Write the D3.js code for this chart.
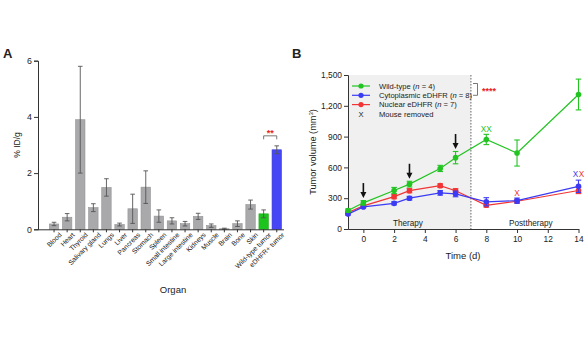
<!DOCTYPE html>
<html><head><meta charset="utf-8">
<script src="https://cdn.jsdelivr.net/npm/d3@7"></script>
<style>
body{margin:0;background:#fff}
svg text{font-family:"Liberation Sans",Arial,Helvetica,sans-serif;fill:#222}
</style></head>
<body><svg id="chart" width="587" height="364"></svg>
<script>
// ---------- Panel A data ----------
const organs = ["Blood","Heart","Thyroid","Salivary gland","Lungs","Liver","Pancreas","Stomach","Spleen","Small intestine","Large intestine","Kidneys","Muscle","Brain","Bone","Skin","Wild-type tumor","eDHFR+ tumor"];
const organValues = [0.19,0.43,3.9,0.77,1.49,0.17,0.73,1.5,0.47,0.3,0.2,0.46,0.13,0.02,0.2,0.88,0.55,2.83];
const organErrors = [0.06,0.13,1.9,0.14,0.31,0.05,0.52,0.58,0.22,0.11,0.08,0.11,0.06,0.02,0.1,0.16,0.14,0.14];
const organColors = ["#a9a9ac","#a9a9ac","#a9a9ac","#a9a9ac","#a9a9ac","#a9a9ac","#a9a9ac","#a9a9ac","#a9a9ac","#a9a9ac","#a9a9ac","#a9a9ac","#a9a9ac","#a9a9ac","#a9a9ac","#a9a9ac","#1ec41e","#4646f6"];
const yTicksA = [0,2,4,6];

// ---------- Panel B data ----------
const days = [-1,0,2,3,5,6,8,10,14];
const wildType = [180,255,375,437,590,695,872,740,1310];
const wildTypeErr = [15,22,30,28,30,60,50,127,150];
const cytoplasmic = [145,215,250,300,352,342,265,276,416];
const cytoplasmicErr = [10,10,15,18,22,28,40,25,60];
const nuclear = [160,225,315,373,422,373,231,270,375];
const nuclearErr = [10,12,20,20,18,20,18,15,30];
const seriesNames = ["Wild-type","Cytoplasmic eDHFR","Nuclear eDHFR"];
const seriesN = [4,8,7];
const seriesColors = ["#22c422","#3b3bf5","#f23434"];
const yTicksB = [0,300,600,900,1200,1500];
const xTicksB = [0,2,4,6,8,10,12,14];
const arrowDays = [0,3,6];
const removedMarks = [
  {day:8, value:975, text:"XX", series:0},
  {day:10, value:355, text:"X", series:2},
  {day:13.8, value:540, text:"X", series:1},
  {day:14.2, value:540, text:"X", series:2}
];

const svg = d3.select("#chart");
const axisColor = "#333";

// ================= PANEL A =================
const xA = d3.scaleBand().domain(organs).range([47.5, 283.3]).paddingInner(0.28).paddingOuter(0.14);
const yA = d3.scaleLinear().domain([0,6]).range([229.3, 60.7]);
const gA = svg.append("g");

gA.selectAll("rect.bar").data(organs).join("rect")
  .attr("x", d => xA(d)).attr("width", xA.bandwidth())
  .attr("y", (d,i) => yA(organValues[i]))
  .attr("height", (d,i) => yA(0) - yA(organValues[i]))
  .attr("fill", (d,i) => organColors[i])
  .attr("stroke", (d,i) => d3.color(organColors[i]).darker(0.4))
  .attr("stroke-width", 0.6);

const errA = gA.selectAll("g.err").data(organs).join("g")
  .attr("stroke", "#555").attr("stroke-width", 0.9);
errA.append("line")
  .attr("x1", d => xA(d) + xA.bandwidth()/2).attr("x2", d => xA(d) + xA.bandwidth()/2)
  .attr("y1", (d,i) => yA(Math.max(0, organValues[i]-organErrors[i])))
  .attr("y2", (d,i) => yA(organValues[i]+organErrors[i]));
errA.append("line")
  .attr("x1", d => xA(d) + xA.bandwidth()/2 - 2.3).attr("x2", d => xA(d) + xA.bandwidth()/2 + 2.3)
  .attr("y1", (d,i) => yA(organValues[i]+organErrors[i]))
  .attr("y2", (d,i) => yA(organValues[i]+organErrors[i]));
errA.append("line")
  .attr("x1", d => xA(d) + xA.bandwidth()/2 - 2.3).attr("x2", d => xA(d) + xA.bandwidth()/2 + 2.3)
  .attr("y1", (d,i) => yA(Math.max(0, organValues[i]-organErrors[i])))
  .attr("y2", (d,i) => yA(Math.max(0, organValues[i]-organErrors[i])));

// y axis A
const yAxA = gA.append("g").attr("transform","translate(38,0)")
  .call(d3.axisLeft(yA).tickValues(yTicksA).tickSize(4).tickPadding(2).tickFormat(d3.format("d")));
yAxA.select(".domain").attr("stroke", axisColor);
yAxA.selectAll(".tick line").attr("stroke", axisColor);
yAxA.selectAll(".tick text").attr("font-size", 8.8).attr("fill","#222");

// x axis A
const xAxA = gA.append("g").attr("transform",`translate(0,${yA(0)})`)
  .call(d3.axisBottom(xA).tickSize(3).tickSizeOuter(0).tickPadding(2));
xAxA.select(".domain").attr("stroke", axisColor).attr("d", `M38,0.5H284`);
xAxA.selectAll(".tick line").attr("stroke", axisColor);
xAxA.selectAll(".tick text")
  .attr("font-size", 6.8).attr("text-anchor","end").attr("fill","#333")
  .attr("transform","translate(3,1) rotate(-45)").attr("dy","0.6em").attr("y", 3).attr("x", 0);

gA.append("text").attr("transform",`translate(20,${(yA(0)+yA(6))/2}) rotate(-90)`)
  .attr("text-anchor","middle").attr("font-size",8.5).text("% ID/g");
gA.append("text").attr("x", 173).attr("y", 293).attr("text-anchor","middle").attr("font-size",9.5).text("Organ");
gA.append("text").attr("x", 3).attr("y", 58).attr("font-size",13).attr("font-weight","bold").text("A");

// significance bracket A
{
  const i1 = organs.length-2, i2 = organs.length-1;
  const x1 = xA(organs[i1]) + xA.bandwidth()/2, x2 = xA(organs[i2]) + xA.bandwidth()/2;
  const yb = yA(organValues[i2] + organErrors[i2]) - 10;
  gA.append("path").attr("d", `M${x1},${yb+3.5}V${yb}H${x2}V${yb+3.5}`)
    .attr("fill","none").attr("stroke","#555").attr("stroke-width",0.8);
  gA.append("text").attr("x",(x1+x2)/2).attr("y", yb+0.5).attr("text-anchor","middle")
    .attr("font-size",9).attr("font-weight","bold").style("fill","#e62222").text("**");
}

// ================= PANEL B =================
const xB = d3.scaleLinear().domain([-1,14]).range([348, 578.5]);
const yB = d3.scaleLinear().domain([0,1500]).range([229, 75]);
const gB = svg.append("g");

// therapy shading
gB.append("rect").attr("x", xB(-1)).attr("y", yB(1500)).attr("width", xB(7)-xB(-1)).attr("height", yB(0)-yB(1500))
  .attr("fill","#f0f0f0");
gB.append("line").attr("x1", xB(7)).attr("x2", xB(7)).attr("y1", yB(1500)).attr("y2", yB(0))
  .attr("stroke","#666").attr("stroke-width",1).attr("stroke-dasharray","1.5,1.5");

gB.append("text").attr("x", xB(2.9)).attr("y", 226).attr("text-anchor","middle").attr("font-size",8.2).text("Therapy");
gB.append("text").attr("x", xB(10.9)).attr("y", 226).attr("text-anchor","middle").attr("font-size",8.2).text("Posttherapy");

// axes B
const yAxB = gB.append("g").attr("transform",`translate(${xB(-1)},0)`)
  .call(d3.axisLeft(yB).tickValues(yTicksB).tickSize(4).tickPadding(2).tickFormat(d3.format(",")));
yAxB.select(".domain").attr("stroke", axisColor);
yAxB.selectAll(".tick line").attr("stroke", axisColor);
yAxB.selectAll(".tick text").attr("font-size", 8.4).attr("fill","#222");

const xAxB = gB.append("g").attr("transform",`translate(0,${yB(0)})`)
  .call(d3.axisBottom(xB).tickValues(xTicksB).tickSize(4).tickSizeOuter(0).tickPadding(3));
xAxB.select(".domain").attr("stroke", axisColor);
xAxB.selectAll(".tick line").attr("stroke", axisColor);
xAxB.selectAll(".tick text").attr("font-size", 8.4).attr("fill","#222");

gB.append("text").attr("transform",`translate(316,${(yB(0)+yB(1500))/2}) rotate(-90)`)
  .attr("text-anchor","middle").attr("font-size",9.2)
  .html('Tumor volume (mm<tspan dy="-3" font-size="6">3</tspan><tspan dy="3">)</tspan>');
gB.append("text").attr("x", 463).attr("y", 259).attr("text-anchor","middle").attr("font-size",9.5).text("Time (d)");
gB.append("text").attr("x", 292).attr("y", 58).attr("font-size",13).attr("font-weight","bold").text("B");

// series
const series = [
  {vals: wildType, errs: wildTypeErr, color: seriesColors[0]},
  {vals: cytoplasmic, errs: cytoplasmicErr, color: seriesColors[1]},
  {vals: nuclear, errs: nuclearErr, color: seriesColors[2]}
];
const line = d3.line().x(d => xB(d[0])).y(d => yB(d[1]));
[2,1,0].forEach(si => {
  const s = series[si];
  const pts = days.map((d,i) => [d, s.vals[i], s.errs[i]]);
  const g = gB.append("g");
  g.append("path").datum(pts).attr("d", line).attr("fill","none").attr("stroke", s.color).attr("stroke-width",1.2);
  const eb = g.selectAll("g.eb").data(pts).join("g").attr("stroke", s.color).attr("stroke-width",1.1);
  eb.append("line").attr("x1", d=>xB(d[0])).attr("x2", d=>xB(d[0])).attr("y1", d=>yB(d[1]-d[2])).attr("y2", d=>yB(d[1]+d[2]));
  eb.append("line").attr("x1", d=>xB(d[0])-2.8).attr("x2", d=>xB(d[0])+2.8).attr("y1", d=>yB(d[1]+d[2])).attr("y2", d=>yB(d[1]+d[2]));
  eb.append("line").attr("x1", d=>xB(d[0])-2.8).attr("x2", d=>xB(d[0])+2.8).attr("y1", d=>yB(d[1]-d[2])).attr("y2", d=>yB(d[1]-d[2]));
  g.selectAll("circle").data(pts).join("circle").attr("cx", d=>xB(d[0])).attr("cy", d=>yB(d[1])).attr("r",2.8).attr("fill", s.color);
});

// arrows
arrowDays.forEach(day => {
  const i = days.indexOf(day);
  const tip = yB(wildType[i] + wildTypeErr[i]) - 2.5;
  const x = xB(day);
  gB.append("line").attr("x1",x).attr("x2",x).attr("y1",tip-15).attr("y2",tip-4).attr("stroke","#111").attr("stroke-width",1.6);
  gB.append("path").attr("d",`M${x-3},${tip-6}L${x+3},${tip-6}L${x},${tip}Z`).attr("fill","#111");
});

// removed marks
removedMarks.forEach(m => {
  gB.append("text").attr("x", xB(m.day)).attr("y", yB(m.value)+3).attr("text-anchor","middle")
    .attr("font-size",8.2).style("fill", seriesColors[m.series]).text(m.text);
});

// legend
const legY = [86, 95.3, 104.6, 114];
seriesNames.forEach((name,i) => {
  gB.append("line").attr("x1",352).attr("x2",370).attr("y1",legY[i]).attr("y2",legY[i]).attr("stroke",seriesColors[i]).attr("stroke-width",1.2);
  gB.append("circle").attr("cx",361).attr("cy",legY[i]).attr("r",2.6).attr("fill",seriesColors[i]);
  const t = gB.append("text").attr("x",379).attr("y",legY[i]+2.7).attr("font-size",7.6);
  t.append("tspan").text(name + " (");
  t.append("tspan").attr("font-style","italic").text("n");
  t.append("tspan").text(" = " + seriesN[i] + ")");
});
gB.append("text").attr("x",361).attr("y",legY[3]+2.7).attr("text-anchor","middle").attr("font-size",7.6).text("X");
gB.append("text").attr("x",379).attr("y",legY[3]+2.7).attr("font-size",7.6).text("Mouse removed");

// significance bracket B
gB.append("path").attr("d",`M473,${legY[0]-2.5}H477.5V${legY[1]}H473`).attr("fill","none").attr("stroke","#555").attr("stroke-width",0.8);
gB.append("text").attr("x",482).attr("y",legY[0]+8).attr("font-size",9).attr("font-weight","bold").style("fill","#e62222").text("****");
</script></body></html>
